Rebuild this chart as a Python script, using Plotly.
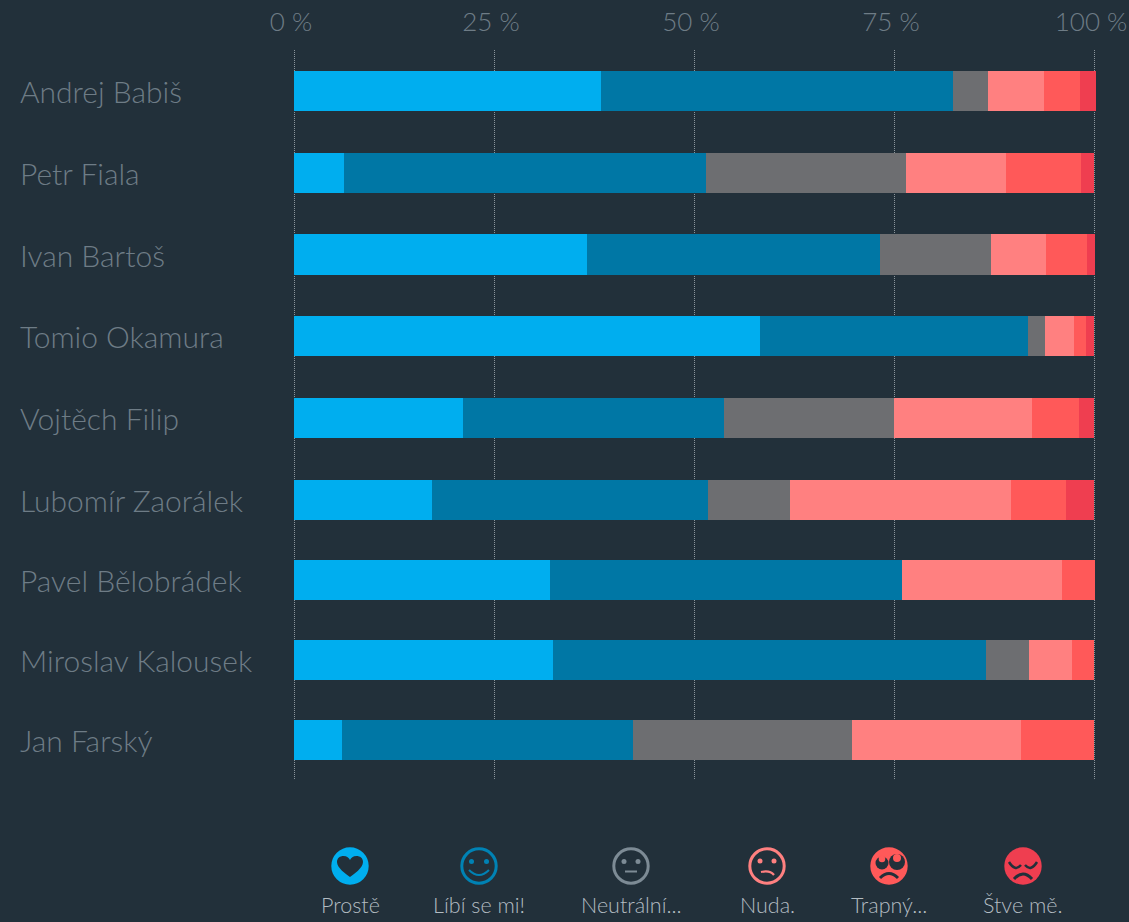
import plotly.graph_objects as go

politicians = ["Andrej Babiš", "Petr Fiala", "Ivan Bartoš", "Tomio Okamura", "Vojtěch Filip",
               "Lubomír Zaorálek", "Pavel Bělobrádek", "Miroslav Kalousek", "Jan Farský"]
proste   = [38.4, 6.25, 36.6, 58.25, 21.1, 17.25, 32.0, 32.4, 6.0]
libi     = [44.0, 45.25, 36.6, 33.5, 32.6, 34.5, 44.0, 54.1, 36.4]
neutral  = [4.4, 25.0, 13.9, 2.1, 21.25, 10.25, 0, 5.4, 27.4]
nuda     = [6.9, 12.5, 6.9, 3.6, 17.25, 27.6, 20.0, 5.4, 21.1]
trapny   = [4.5, 9.4, 5.1, 1.5, 5.9, 6.9, 4.1, 2.75, 9.1]
stve     = [2.0, 1.6, 1.0, 1.1, 1.9, 3.5, 0, 0, 0]
series_names = ["Prostě", "Líbí se mi!", "Neutrální...", "Nuda.", "Trapný...", "Štve mě."]
x_ticks = [0, 25, 50, 75, 100]
x_tick_labels = ["0 %", "25 %", "50 %", "75 %", "100 %"]

BG = "#22303a"
COLORS = ["#00aeef", "#0077a5", "#6d6e71", "#ff8080", "#ff5959", "#ef3e50"]
ICON_COLORS = ["#00aeef", "#0082b4", "#7d8b95", "#ff8080", "#ff5959", "#ef3e50"]
W, H = 1129, 922
FONT = "Lato"
L, R, T, B = 292, 1096, 50, 780
SPLIT_TOP, SPLIT_BOT = 459, 460

fig = go.Figure()
all_series = [proste, libi, neutral, nuda, trapny, stve]
for suffix, start, stop in (("", 0, 5), ("2", 5, 9)):
    for name, vals, col in zip(series_names, all_series, COLORS):
        fig.add_trace(go.Bar(x=vals[start:stop], y=politicians[start:stop], name=name, orientation="h",
                             marker=dict(color=col, line=dict(width=0)), showlegend=False,
                             xaxis="x" + suffix, yaxis="y" + suffix))

common_x = dict(range=[-0.25, 100.25], tickvals=x_ticks, showgrid=True, gridcolor="#8b959c", griddash="1px,1px",
                gridwidth=1, zeroline=False, showline=False, ticks="", domain=[0, 1])

ann = []
for i, n in enumerate(politicians):
    ann.append(dict(text=n, xref="paper", x=(18 - L) / (R - L), xanchor="left",
                    yref="y" if i < 5 else "y2", y=n, yanchor="middle", showarrow=False,
                    font=dict(family=FONT, size=30, color="#6e7c86", weight=300)))

# ---- legend icons, pixel geometry relative to the whole page ----
shapes = []
def to_paper(x, y):
    return (x - L) / (R - L), (B - y) / (B - T)

def circle(cx, cy, r, fill=None, line=None, lw=0):
    x0, y0 = to_paper(cx - r, cy + r)
    x1, y1 = to_paper(cx + r, cy - r)
    shapes.append(dict(type="circle", xref="paper", yref="paper", x0=x0, y0=y0, x1=x1, y1=y1,
                       fillcolor=fill or "rgba(0,0,0,0)",
                       line=dict(color=line or "rgba(0,0,0,0)", width=lw), layer="above"))

def path(cx, cy, d, fill=None, line=None, lw=0):
    out, nums = [], []
    for tok in d.split():
        if tok.isalpha():
            out.append(tok)
            nums = []
        else:
            nums.append(float(tok))
            if len(nums) == 2:
                a, b = to_paper(cx + nums[0], cy + nums[1])
                out.append(f"{a:.5f},{b:.5f}")
                nums = []
    shapes.append(dict(type="path", xref="paper", yref="paper", path=" ".join(out),
                       fillcolor=fill or "rgba(0,0,0,0)",
                       line=dict(color=line or "rgba(0,0,0,0)", width=lw), layer="above"))

icon_x = [350, 479, 631, 767, 889, 1023]
ICY, IR = 866, 18.7

# heart
c = ICON_COLORS[0]; x = icon_x[0]
circle(x, ICY, IR, fill=c)
path(x, ICY, "M 0 11 C -4 8 -13 2 -13 -4 C -13 -8 -10 -10 -6.5 -10 C -3 -10 -1 -8 0 -6 C 1 -8 3 -10 6.5 -10 C 10 -10 13 -8 13 -4 C 13 2 4 8 0 11 Z", fill=BG)
# smile
c = ICON_COLORS[1]; x = icon_x[1]
circle(x, ICY, 17.2, line=c, lw=3)
circle(x - 7.5, ICY - 4.5, 2.5, fill=c); circle(x + 7.5, ICY - 4.5, 2.5, fill=c)
path(x, ICY, "M -10 4 Q 0 14 10 4", line=c, lw=2)
# neutral
c = ICON_COLORS[2]; x = icon_x[2]
circle(x, ICY, 17.2, line=c, lw=3)
circle(x - 7, ICY - 4.5, 2.5, fill=c); circle(x + 7, ICY - 4.5, 2.5, fill=c)
path(x, ICY, "M -6 5.5 L 6 5.5", line=c, lw=2)
# boredom
c = ICON_COLORS[3]; x = icon_x[3]
circle(x, ICY, 17.2, line=c, lw=3)
circle(x - 7, ICY - 5, 2.5, fill=c); circle(x + 7, ICY - 5, 2.5, fill=c)
path(x, ICY, "M -6 6 Q 3 4 7 9", line=c, lw=2.2)
# eye-roll
c = ICON_COLORS[4]; x = icon_x[4]
circle(x, ICY, IR, fill=c)
circle(x - 7, ICY - 3, 6.5, fill=BG); circle(x + 8, ICY - 4, 8, fill=BG)
circle(x - 7, ICY - 7, 3.3, fill=c); circle(x + 8, ICY - 8, 4, fill=c)
path(x, ICY, "M -9 12 Q 0 3 9 12", line=BG, lw=3)
# closed eyes
c = ICON_COLORS[5]; x = icon_x[5]
circle(x, ICY, IR, fill=c)
path(x, ICY, "M -14 -4 Q -8 6 -2 -1", line=BG, lw=2.5)
path(x, ICY, "M 2 -1 Q 8 6 14 -4", line=BG, lw=2.5)
path(x, ICY, "M -9 13 Q 0 3 9 13", line=BG, lw=3)

for name, x in zip(series_names, icon_x):
    ax, ay = to_paper(x, 905)
    ann.append(dict(text=name, xref="paper", yref="paper", x=ax, y=ay, xanchor="center", yanchor="middle",
                    showarrow=False, font=dict(family=FONT, size=21.5, color="#b3bcc2", weight=300)))

fig.update_layout(
    width=W, height=H,
    margin=dict(l=L, r=W - R, t=T, b=H - B, pad=0, autoexpand=False),
    paper_bgcolor=BG, plot_bgcolor=BG,
    barmode="stack", bargap=0.51,
    annotations=ann, shapes=shapes,
    xaxis=dict(common_x, anchor="y", side="top", ticktext=x_tick_labels, showticklabels=True,
               tickfont=dict(family=FONT, size=26, color="#6e7c86", weight=300), ticklabelstandoff=13,
               ticklabelshift=-3),
    yaxis=dict(domain=[(B - SPLIT_TOP) / (B - T), 1], categoryorder="array", categoryarray=politicians[:5][::-1],
               showticklabels=False, showgrid=False, zeroline=False, anchor="x"),
    xaxis2=dict(common_x, anchor="y2", showticklabels=False),
    yaxis2=dict(domain=[0, (B - SPLIT_BOT) / (B - T)], categoryorder="array", categoryarray=politicians[5:][::-1],
                showticklabels=False, showgrid=False, zeroline=False, anchor="x2"),
)
fig.write_html("out.html", config={"displayModeBar": False},
               post_script="document.body.style.margin='0';document.body.style.background='" + BG + "';")
